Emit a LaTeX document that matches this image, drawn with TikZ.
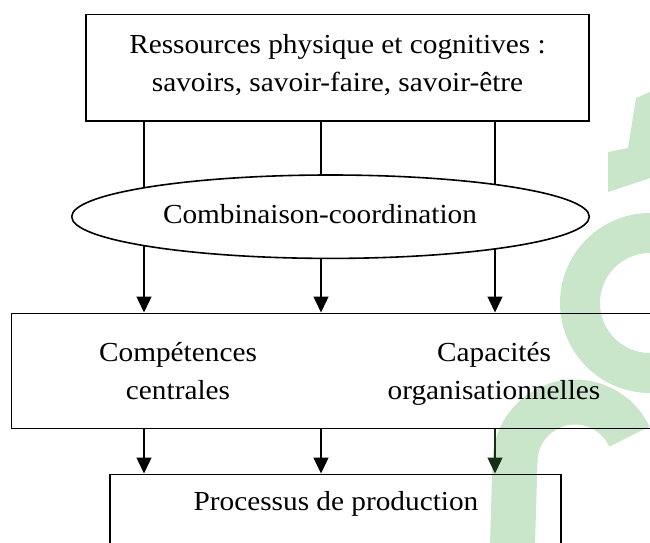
\documentclass[tikz,border=0pt]{standalone}
\usepackage{fontspec}
\setmainfont{Liberation Serif}[FakeStretch=1.065]
\usetikzlibrary{shapes.geometric,arrows.meta}
\pgfdeclarelayer{logo}
\pgfdeclarelayer{links}
\pgfsetlayers{logo,links,main}
\definecolor{logogreen}{RGB}{202,230,202}
\definecolor{darkgreen}{RGB}{22,46,22}

\begin{document}
\begin{tikzpicture}[x=1pt,y=-1pt,
  box/.style={draw, line width=1.6pt, inner sep=0pt},
  link/.style={line width=1.4pt},
  arr/.style={link, -{Triangle[width=15pt,length=16pt]}},
  lbl/.style={font=\fontsize{27.5}{37.5}\selectfont, align=center, inner sep=0pt},
]
\useasboundingbox (0,0) rectangle (650,543);

% columns of the connectors
\coordinate (k1) at (144,0);
\coordinate (k2) at (321,0);
\coordinate (k3) at (495,0);

% resources box
\node[box, minimum width=503pt, minimum height=106pt] (res) at (337.5,67.7) {};
\node[lbl] (restxt) at (337.5,64.8)
  {Ressources physique et cognitives :\\[0.5pt]savoirs, savoir-faire, savoir-être};

% combination ellipse
\node[draw, ellipse, line width=1.6pt, fill=white, inner sep=0pt,
      minimum width=517.6pt, minimum height=83.4pt] (comb) at (330.5,216.7) {};
\node[lbl, anchor=base] (combtxt) at (320,223.3) {Combinaison-coordination};

% competences box (runs past the right edge)
\node[box, minimum width=658.5pt, minimum height=115pt] (mid) at (340.75,370.8) {};
\node[lbl] (core) at (178,371) {Compétences\\[0.5pt]centrales};
\node[lbl] (capa) at (494,374) {Capacités\\[0.5pt]organisationnelles};

% production box (runs past the bottom edge)
\node[box, minimum width=451pt, minimum height=125.7pt] (prod) at (335.5,537.15) {};
\node[lbl, anchor=base] (prodtxt) at (336,510) {Processus de production};

% connectors
\begin{pgfonlayer}{links}
  \foreach \k in {k1,k2,k3} {
    \draw[link] (res.south -| \k) -- (comb.center -| \k);
    \draw[arr] (comb.center -| \k) -- (mid.north -| \k);
  }
  \draw[arr] (mid.south -| k1) -- (prod.north -| k1);
  \draw[arr] (mid.south -| k2) -- (prod.north -| k2);
  \draw[arr, darkgreen] (mid.south -| k3) -- (prod.north -| k3);
\end{pgfonlayer}

% light green emblem behind the chart
\begin{pgfonlayer}{logo}
  \fill[logogreen] (636,98) -- (650,92) -- (650,178) -- (608,192) -- (608,152) -- (628,148) -- cycle;
  \draw[logogreen, line width=40pt] (650,303) circle[radius=70];
  \draw[logogreen, line width=45pt] (575,462) ++(-25:60)
    arc[start angle=-25, end angle=-180, radius=60] -- (512,560);
\end{pgfonlayer}
\end{tikzpicture}
\end{document}
